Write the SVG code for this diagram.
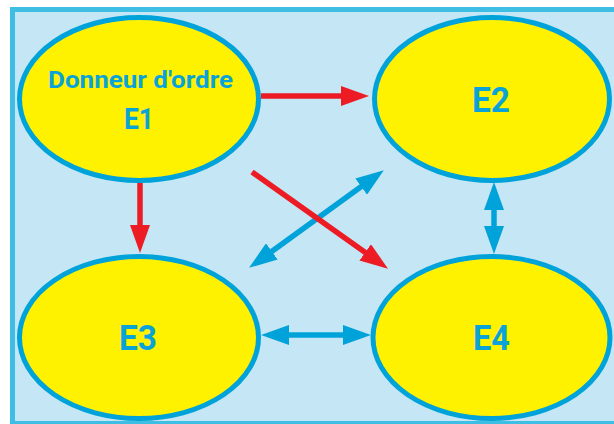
<svg xmlns="http://www.w3.org/2000/svg" width="614" height="424" viewBox="0 0 614 424">
<style>
.node{fill:#fff200;stroke:#00a3d9;stroke-width:5}
.lbl{font-family:Roboto,"Liberation Sans",sans-serif;font-weight:bold;fill:#0aa3d9;text-anchor:middle}
.red{stroke:#ed1c24;stroke-width:5.5;fill:none}
.blue{stroke:#00a3d9;stroke-width:5.5;fill:none}
</style>
<defs>
<marker id="hr" viewBox="0 0 28 20" markerWidth="28" markerHeight="20" refX="1" refY="10" orient="auto-start-reverse" markerUnits="userSpaceOnUse"><path d="M0,0 L28,10 L0,20 z" fill="#ed1c24"/></marker>
<marker id="hb" viewBox="0 0 28 20" markerWidth="28" markerHeight="20" refX="1" refY="10" orient="auto-start-reverse" markerUnits="userSpaceOnUse"><path d="M0,0 L28,10 L0,20 z" fill="#00a3d9"/></marker>
</defs>
<rect x="12.5" y="9.5" width="610" height="414" fill="#c5e6f5" stroke="#3fbee3" stroke-width="5"/>
<g id="connectors">
<line class="blue" x1="271" y1="252" x2="362" y2="186" marker-start="url(#hb)" marker-end="url(#hb)"/>
<line class="red" x1="252" y1="172" x2="366" y2="253" marker-end="url(#hr)"/>
<line class="red" x1="261" y1="96" x2="342" y2="96" marker-end="url(#hr)"/>
<line class="red" x1="140" y1="183" x2="140" y2="226" marker-end="url(#hr)"/>
<line class="blue" x1="494" y1="209" x2="494" y2="227" marker-start="url(#hb)" marker-end="url(#hb)"/>
<line class="blue" x1="288" y1="335" x2="344" y2="335" marker-start="url(#hb)" marker-end="url(#hb)"/>
</g>
<g id="E1">
<ellipse class="node" cx="139" cy="99" rx="119.5" ry="81.5"/>
<text class="lbl" x="140.5" y="88" font-size="24" textLength="185" lengthAdjust="spacingAndGlyphs">Donneur d'ordre</text>
<text class="lbl" x="139" y="129" font-size="29" textLength="30" lengthAdjust="spacingAndGlyphs">E1</text>
</g>
<g id="E2">
<ellipse class="node" cx="492" cy="99" rx="117.5" ry="81.5"/>
<text class="lbl" x="491" y="112" font-size="35" textLength="38" lengthAdjust="spacingAndGlyphs">E2</text>
</g>
<g id="E3">
<ellipse class="node" cx="139" cy="337.5" rx="119.5" ry="81"/>
<text class="lbl" x="138" y="350" font-size="35" textLength="38" lengthAdjust="spacingAndGlyphs">E3</text>
</g>
<g id="E4">
<ellipse class="node" cx="491.5" cy="337.5" rx="118.5" ry="81"/>
<text class="lbl" x="491.5" y="350" font-size="35" textLength="37" lengthAdjust="spacingAndGlyphs">E4</text>
</g>
</svg>
